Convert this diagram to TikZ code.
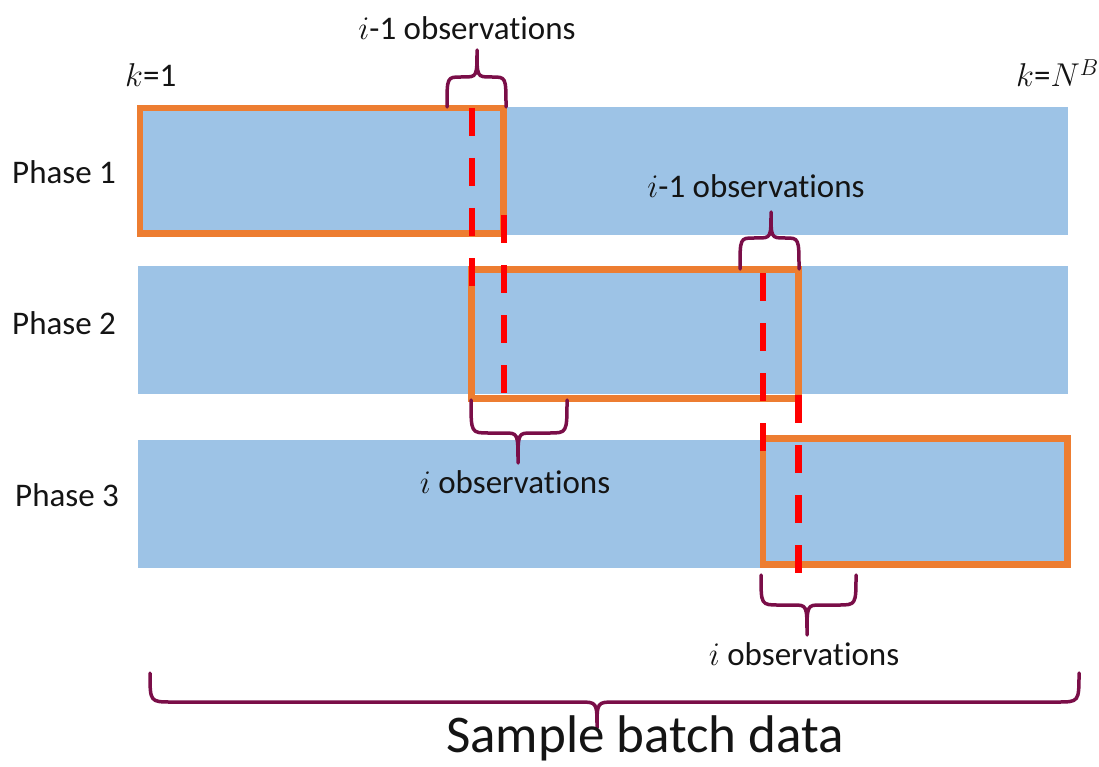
\RequirePackage{fix-cm}
\documentclass[tikz,border=0pt]{standalone}
\usepackage{fontspec}
\setmainfont{Carlito}[Ligatures=NoCommon]

\definecolor{bandblue}{RGB}{157,195,230}
\definecolor{winorange}{RGB}{237,125,49}
\definecolor{splitred}{RGB}{255,0,0}
\definecolor{bracecol}{RGB}{122,14,72}
\definecolor{inkcol}{RGB}{20,20,20}

% curly brace: x-left, x-right, x-tip, y-ends, y-middle, y-tip, end radius, tip radius
\newcommand\obsbrace[8]{%
  \draw[bracestroke] (#1,#4) .. controls (#1,#5) .. ({#1+#7},#5)
    -- ({#3-#8},#5) .. controls (#3,#5) .. (#3,#6)
    .. controls (#3,#5) .. ({#3+#8},#5)
    -- ({#2-#7},#5) .. controls (#2,#5) .. (#2,#4);}

\tikzset{
  band/.style={fill=bandblue, draw=none},
  window/.style={draw=winorange, line width=6.5pt},
  splitline/.style={draw=splitred, line width=6.5pt, dash pattern=on 28pt off 22pt},
  bracestroke/.style={draw=bracecol, line width=3.5pt, line cap=round, line join=round},
  lbl/.style={inner sep=0pt, text=inkcol, font=\fontsize{33}{40}\selectfont},
  phaselbl/.style={inner sep=0pt, text=inkcol, anchor=base west, font=\fontsize{33}{40}\selectfont},
}

\begin{document}
\begin{tikzpicture}[x=1pt, y=-1pt]
\useasboundingbox (0,0) rectangle (1099,767);

% data bands of the three phases
\fill[band] (138,107) rectangle (1068,235);
\fill[band] (138,266) rectangle (1068,394);
\fill[band] (138,440) rectangle (1068,568);

% moving windows
\draw[window] (140,108) rectangle (503.5,233.5);
\draw[window] (471.5,269.5) rectangle (798.5,398.5);
\draw[window] (763,438.5) rectangle (1067.5,564.5);

% phase boundaries
\draw[splitline] (472,108) -- (472,287);
\draw[splitline] (504,215) -- (504,394);
\draw[splitline] (763,273) -- (763,452);
\draw[splitline] (798.5,395) -- (798.5,574);

% braces
\obsbrace{447}{506}{477}{107}{77}{50}{14}{14}
\obsbrace{740}{799}{771}{269}{238}{212}{14}{14}
\obsbrace{471}{567}{518}{400}{433}{463}{18}{14}
\obsbrace{761}{856}{807}{575}{605}{635}{18}{14}
\obsbrace{150}{1079}{597}{673}{702}{728}{22}{18}

% labels
\node[phaselbl] (p1) at (12,184) {Phase 1};
\node[phaselbl] (p2) at (12,334) {Phase 2};
\node[phaselbl] (p3) at (15,506) {Phase 3};

\node[lbl, anchor=base west] (kfirst) at (125,87) {$k$=1};
\node[lbl, anchor=base west] (klast) at (1016,87) {$k$=$N^{B}$};

\node[lbl, anchor=base] (obs1) at (467,40) {$i$-1 observations};
\node[lbl, anchor=base] (obs2) at (756,198) {$i$-1 observations};
\node[lbl, anchor=base] (obs3) at (515,493) {$i$ observations};
\node[lbl, anchor=base] (obs4) at (804,665) {$i$ observations};

\node[inner sep=0pt, text=inkcol, anchor=base, font=\fontsize{53}{64}\selectfont] (total) at (645,752) {Sample batch data};
\end{tikzpicture}
\end{document}
